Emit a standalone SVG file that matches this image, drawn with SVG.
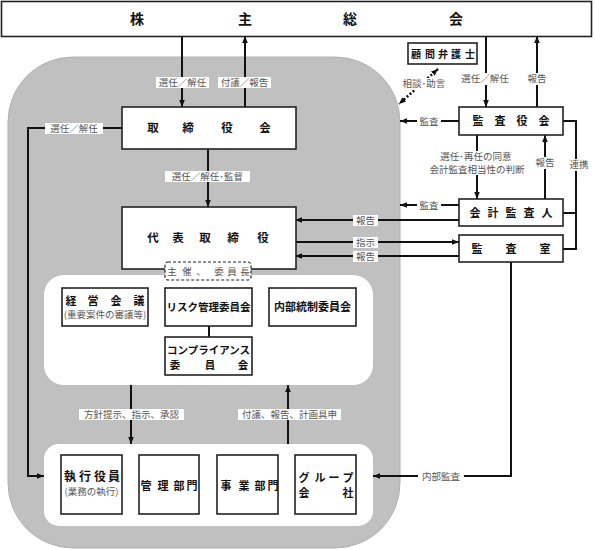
<svg xmlns="http://www.w3.org/2000/svg" width="595" height="550" viewBox="0 0 595 550">
<defs>
<marker id="ah" viewBox="0 0 10 10" refX="10" refY="5" markerWidth="7" markerHeight="7" orient="auto-start-reverse" markerUnits="userSpaceOnUse"><path d="M0,1 L10,5 L0,9 z" fill="#111"/></marker>
<style>
.box{fill:#fff;stroke:#222;stroke-width:1.6}
.t{font-family:"Noto Sans CJK JP","Noto Sans",sans-serif;font-weight:bold;fill:#111;text-anchor:middle}
.lb{font-family:"Noto Sans CJK JP","Noto Sans",sans-serif;font-size:9.5px;fill:#555;text-anchor:middle}
.bg{fill:#fff}
.c{fill:none;stroke:#111;stroke-width:2}
.a{marker-end:url(#ah)}
</style>
</defs>
<rect x="8" y="57" width="392" height="491" rx="65" fill="#c0c0c0" stroke="#b0b0b0"/>
<rect x="44" y="275" width="329" height="110" rx="20" fill="#fff"/>
<rect x="44" y="444" width="329" height="82" rx="15" fill="#fff"/>

<g id="connectors">
<path class="c a" d="M182,36 V107"/>
<path class="c a" d="M245,107 V36"/>
<path class="c a" d="M208,149 V207"/>
<path class="c a" d="M122,128 H28 V476 H44"/>
<path class="c a" d="M131,385 V444"/>
<path class="c a" d="M288,444 V385"/>
<path class="c" d="M209,326 V337"/>
<path class="c a" d="M486,36 V107"/>
<path class="c a" d="M537,107 V36"/>
<path class="c a" d="M459,121 H400"/>
<path class="c a" d="M477,135 V199"/>
<path class="c a" d="M545,199 V135"/>
<path class="c a" d="M459,205 H400"/>
<path class="c a" d="M459,220 H295"/>
<path class="c a" d="M295,242 H459"/>
<path class="c a" d="M459,256 H295"/>
<path class="c" d="M563,121 H576 V249 H563 M563,213 H576"/>
<path class="c a" d="M511,262 V476 H373"/>
<path d="M438,69 L399,104" fill="none" stroke="#111" stroke-width="2.5" stroke-dasharray="2 2" marker-start="url(#ah)" marker-end="url(#ah)"/>

<rect class="bg" x="156" y="77" width="53" height="11"/><text class="lb" x="182.5" y="86">選任／解任</text>
<rect class="bg" x="218" y="77" width="53" height="11"/><text class="lb" x="244.5" y="86">付議／報告</text>
<rect class="bg" x="45" y="123" width="58" height="11"/><text class="lb" x="74" y="132">選任／解任</text>
<rect class="bg" x="165" y="171" width="85" height="11"/><text class="lb" x="207.5" y="180">選任／解任･監督</text>
<rect class="bg" x="79" y="409" width="105" height="11"/><text class="lb" x="131.5" y="418">方針提示、指示、承認</text>
<rect class="bg" x="238" y="409" width="103" height="11"/><text class="lb" x="289.5" y="418">付議、報告、計画具申</text>
<rect class="bg" x="353" y="215" width="25" height="11"/><text class="lb" x="365.5" y="224">報告</text>
<rect class="bg" x="353" y="237" width="25" height="11"/><text class="lb" x="365.5" y="246">指示</text>
<rect class="bg" x="353" y="251" width="25" height="11"/><text class="lb" x="365.5" y="260">報告</text>
<rect class="bg" x="417" y="116" width="24" height="11"/><text class="lb" x="429" y="125">監査</text>
<rect class="bg" x="417" y="200" width="24" height="11"/><text class="lb" x="429" y="209">監査</text>
<rect class="bg" x="418" y="471" width="46" height="11"/><text class="lb" x="441" y="480">内部監査</text>
<rect class="bg" x="568" y="159" width="22" height="12"/><text class="lb" x="579" y="168">連携</text>
<rect class="bg" x="459" y="73" width="53" height="12"/><text class="lb" x="485" y="82">選任／解任</text>
<rect class="bg" x="525" y="73" width="24" height="12"/><text class="lb" x="537" y="82">報告</text>
<rect class="bg" x="428" y="151" width="98" height="24"/><text class="lb" x="476" y="160">選任･再任の同意</text><text class="lb" x="477" y="172.5">会計監査相当性の判断</text>
<rect class="bg" x="533" y="157" width="24" height="12"/><text class="lb" x="545" y="166">報告</text>
<rect class="bg" x="403" y="78" width="42" height="12"/><text class="lb" x="424" y="87">相談･助言</text>
</g>

<g id="kabunushi"><rect class="box" x="1.5" y="1.5" width="590" height="35"/><text class="t" font-size="14" x="137 245 350 456" y="24">株主総会</text></g>
<g id="torishimariyakukai"><rect class="box" x="122" y="107" width="174" height="42"/><text class="t" font-size="11.5" x="153 188 227 265" y="132">取締役会</text></g>
<g id="daihyo"><rect class="box" x="122" y="207" width="174" height="62"/><text class="t" font-size="11.5" x="153 178 205 233 263" y="242">代表取締役</text></g>
<g id="shusai"><rect x="165" y="262" width="86" height="18" rx="3" fill="#fff" stroke="#222" stroke-width="1.2" stroke-dasharray="3 2"/><text class="lb" x="172 187 201 219 232 245" y="275">主催、委員長</text></g>
<g id="keiei"><rect class="box" x="62" y="288" width="86" height="38"/><text class="t" font-size="11" x="71 93 116 139" y="305">経営会議</text><text class="lb" font-size="8.5" x="105" y="318">(重要案件の審議等)</text></g>
<g id="risk"><rect class="box" x="165" y="288" width="87" height="38"/><text class="t" font-size="10.5" x="208.5" y="311">リスク管理委員会</text></g>
<g id="naibu"><rect class="box" x="269" y="288" width="87" height="38"/><text class="t" font-size="11" x="312.5" y="311">内部統制委員会</text></g>
<g id="compliance"><rect class="box" x="165" y="337" width="87" height="38"/><text class="t" font-size="10.5" x="208.5" y="354">コンプライアンス</text><text class="t" font-size="10.5" x="175 210 243" y="369">委員会</text></g>
<g id="shikko"><rect class="box" x="61" y="455" width="61" height="59"/><text class="t" font-size="12" x="70 85 100 114" y="481">執行役員</text><text class="lb" font-size="7.5" x="91.5" y="495">(業務の執行)</text></g>
<g id="kanri"><rect class="box" x="139" y="455" width="60" height="59"/><text class="t" font-size="11" x="146 163 179 192" y="490">管理部門</text></g>
<g id="jigyo"><rect class="box" x="217" y="455" width="61" height="59"/><text class="t" font-size="11" x="226 244 260 273" y="490">事業部門</text></g>
<g id="group"><rect class="box" x="295" y="455" width="61" height="59"/><text class="t" font-size="11" x="304 320 334 348" y="482">グループ</text><text class="t" font-size="11" x="304 348" y="497">会社</text></g>
<g id="komon"><rect class="box" x="408" y="43" width="69" height="21"/><text class="t" font-size="10" x="416 430 443 456 470" y="57.5">顧問弁護士</text></g>
<g id="kansayakukai"><rect class="box" x="459" y="107" width="104" height="28"/><text class="t" font-size="11" x="478 500 522 544" y="125">監査役会</text></g>
<g id="kaikei"><rect class="box" x="459" y="199" width="104" height="27"/><text class="t" font-size="11" x="475 493 511 529 547" y="217">会計監査人</text></g>
<g id="kansashitsu"><rect class="box" x="459" y="235" width="104" height="27"/><text class="t" font-size="11" x="477 511 545" y="253">監査室</text></g>
</svg>
